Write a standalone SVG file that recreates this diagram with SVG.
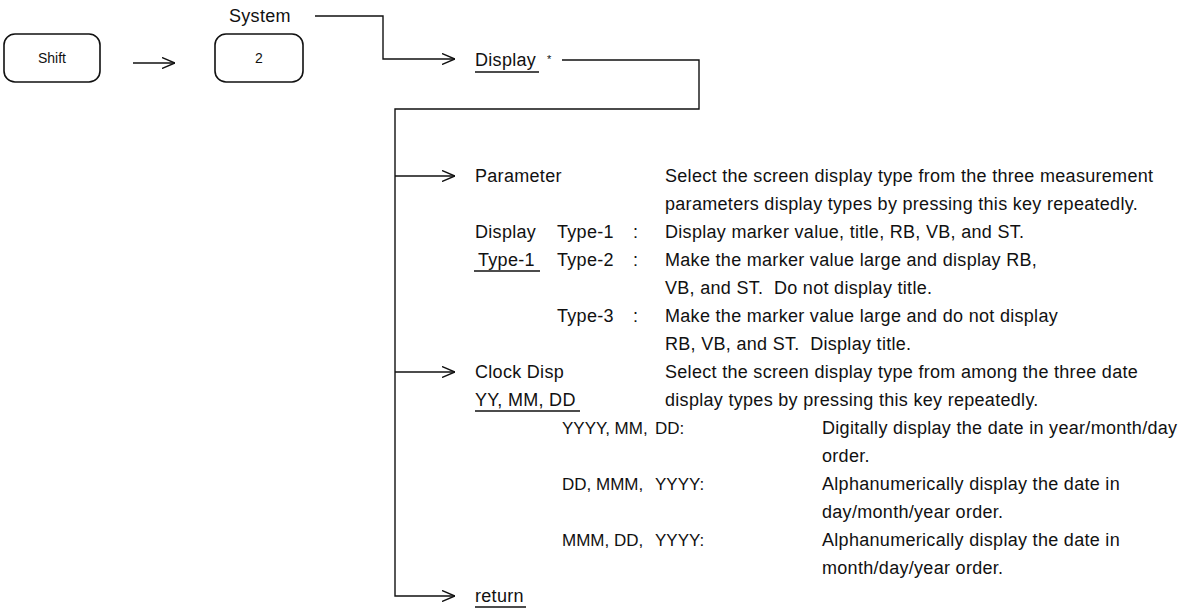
<svg xmlns="http://www.w3.org/2000/svg" width="1183" height="616" viewBox="0 0 1183 616">
<style>
text{font-family:"Liberation Sans",Arial,sans-serif;font-size:18px;letter-spacing:0.3px;fill:#111;white-space:pre}
.key{fill:none;stroke:#111;stroke-width:1.6}
.kt{font-size:14px;letter-spacing:0;text-anchor:middle}
.d{font-size:17px;letter-spacing:0}
.c{fill:none;stroke:#111;stroke-width:1.4}
.u{stroke:#111;stroke-width:1.4}
</style>
<defs>
<marker id="ah" markerUnits="userSpaceOnUse" viewBox="0 0 13 12" refX="13" refY="6" markerWidth="13" markerHeight="12" orient="auto">
<path d="M0,0.5 L13,6 L0,11.5" fill="none" stroke="#111" stroke-width="1.4"/>
</marker>
</defs>
<rect width="1183" height="616" fill="#fff"/>

<g id="connectors">
<path class="c" d="M133,63 H175" marker-end="url(#ah)"/>
<path class="c" d="M315,16 H383 V59 H455" marker-end="url(#ah)"/>
<path class="c" d="M562,60 H699 V109 H395 V596 H455" marker-end="url(#ah)"/>
<path class="c" d="M395,176 H455" marker-end="url(#ah)"/>
<path class="c" d="M395,372 H455" marker-end="url(#ah)"/>
</g>

<g id="key-shift">
<rect class="key" x="4" y="34" width="96" height="48" rx="11"/>
<text class="kt" x="52" y="63">Shift</text>
</g>
<g id="key-2">
<rect class="key" x="215" y="34" width="88" height="48" rx="11"/>
<text class="kt" x="259" y="63">2</text>
</g>
<g id="label-system">
<text x="229" y="22">System</text>
</g>
<g id="menu-display">
<text x="475" y="66">Display</text>
<line class="u" x1="475" y1="72" x2="539" y2="72"/>
<text x="547" y="63" style="font-size:11px">*</text>
</g>

<g id="item-parameter">
<text x="475" y="182">Parameter</text>
<text x="665" y="182">Select the screen display type from the three measurement</text>
<text x="665" y="210">parameters display types by pressing this key repeatedly.</text>
<text x="475" y="238">Display</text>
<text x="478" y="266">Type-1</text>
<line class="u" x1="474" y1="271" x2="540" y2="271"/>
<text x="557" y="238">Type-1</text>
<text x="633" y="238">:</text>
<text x="665" y="238">Display marker value, title, RB, VB, and ST.</text>
<text x="557" y="266">Type-2</text>
<text x="633" y="266">:</text>
<text x="665" y="266">Make the marker value large and display RB,</text>
<text x="665" y="294">VB, and ST.  Do not display title.</text>
<text x="557" y="322">Type-3</text>
<text x="633" y="322">:</text>
<text x="665" y="322">Make the marker value large and do not display</text>
<text x="665" y="350">RB, VB, and ST.  Display title.</text>
</g>

<g id="item-clock">
<text x="475" y="378">Clock Disp</text>
<text x="665" y="378">Select the screen display type from among the three date</text>
<text x="475" y="406">YY, MM, DD</text>
<line class="u" x1="475" y1="411" x2="580" y2="411"/>
<text x="665" y="406">display types by pressing this key repeatedly.</text>
<text class="d" x="562" y="434">YYYY, MM,</text>
<text class="d" x="655" y="434">DD:</text>
<text x="822" y="434">Digitally display the date in year/month/day</text>
<text x="822" y="462">order.</text>
<text class="d" x="562" y="490">DD, MMM,</text>
<text class="d" x="655" y="490">YYYY:</text>
<text x="822" y="490">Alphanumerically display the date in</text>
<text x="822" y="518">day/month/year order.</text>
<text class="d" x="562" y="546">MMM, DD,</text>
<text class="d" x="655" y="546">YYYY:</text>
<text x="822" y="546">Alphanumerically display the date in</text>
<text x="822" y="574">month/day/year order.</text>
</g>

<g id="item-return">
<text x="475" y="602">return</text>
<line class="u" x1="475" y1="607" x2="526" y2="607"/>
</g>
</svg>
